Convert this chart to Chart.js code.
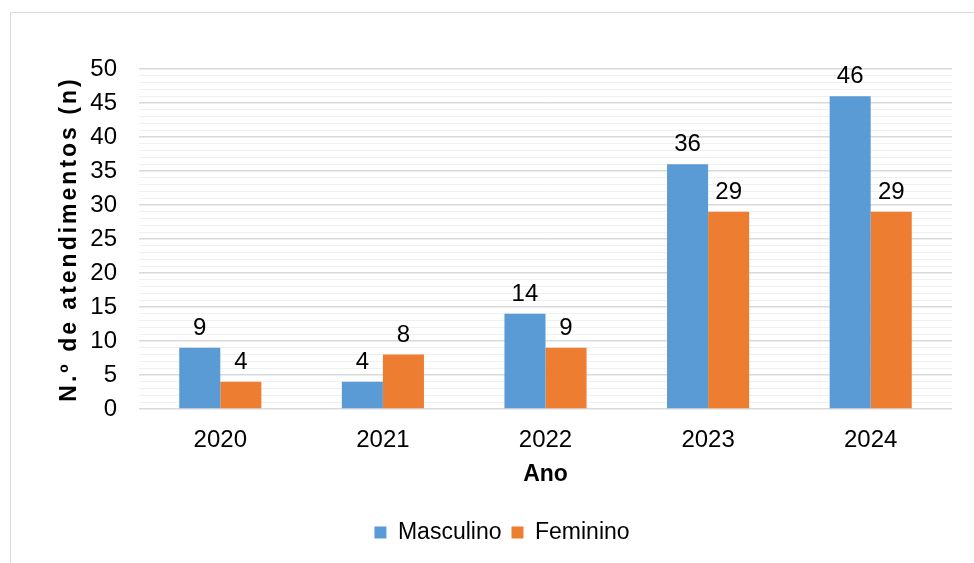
<!DOCTYPE html>
<html>
<head>
<meta charset="utf-8">
<script src="https://cdn.jsdelivr.net/npm/chart.js@4"></script>
<style>
  html, body { margin: 0; padding: 0; background: #fff; }
  body { width: 974px; height: 563px; position: relative; overflow: hidden; }
  #frame { position: absolute; left: 10px; top: 12px; width: 1000px; height: 600px; border: 1px solid #d9d9d9; }
  #wrap { position: absolute; left: 0; top: 0; width: 974px; height: 563px; }
</style>
</head>
<body>
<div id="frame"></div>
<div id="wrap"><canvas id="graficoAtendimentos" width="974" height="563"></canvas></div>
<script>
const anos = ['2020', '2021', '2022', '2023', '2024']
const masculino = [9, 4, 14, 36, 46]
const feminino = [4, 8, 9, 29, 29]
const yMax = 50
const yStep = 5
const tituloY = 'N.º de atendimentos (n)'
const fonte = '"Liberation Sans", Arial, sans-serif'

// escreve o valor em cima de cada barra
const valoresNasBarras = {
  id: 'valoresNasBarras',
  afterDatasetsDraw(chart) {
    const ctx = chart.ctx
    ctx.save()
    ctx.font = '24px ' + fonte
    ctx.fillStyle = '#000'
    ctx.textAlign = 'center'
    ctx.textBaseline = 'alphabetic'
    chart.data.datasets.forEach((dataset, i) => {
      chart.getDatasetMeta(i).data.forEach((bar, j) => {
        ctx.fillText(dataset.data[j], bar.x, bar.y - 13)
      })
    })
    ctx.restore()
  }
}

// titulo do eixo y, com espacamento entre letras
const tituloEixoY = {
  id: 'tituloEixoY',
  afterDraw(chart) {
    const ctx = chart.ctx
    const area = chart.chartArea
    ctx.save()
    ctx.translate(70, (area.top + area.bottom) / 2)
    ctx.rotate(-Math.PI / 2)
    ctx.font = 'bold 23px ' + fonte
    if ('letterSpacing' in ctx) ctx.letterSpacing = '3px'
    ctx.fillStyle = '#000'
    ctx.textAlign = 'center'
    ctx.textBaseline = 'middle'
    ctx.fillText(tituloY, 0, 0)
    ctx.restore()
  }
}

const graph = document.querySelector('#graficoAtendimentos')

new Chart(graph, {
  type: 'bar',
  data: {
    labels: anos,
    datasets: [{
      label: 'Masculino',
      data: masculino,
      backgroundColor: '#5B9BD5'
    }, {
      label: 'Feminino',
      data: feminino,
      backgroundColor: '#ED7D31'
    }]
  },
  options: {
    responsive: false,
    animation: false,
    devicePixelRatio: 1,
    layout: { padding: { top: 69, left: 52, right: 22, bottom: 9 } },
    datasets: { bar: { categoryPercentage: 0.505, barPercentage: 1.0 } },
    plugins: {
      legend: {
        position: 'bottom',
        labels: {
          boxWidth: 12, boxHeight: 12, padding: 10,
          color: '#000',
          font: { size: 23, family: fonte }
        }
      },
      tooltip: { enabled: false }
    },
    scales: {
      x: {
        grid: { display: false },
        border: { display: false },
        afterFit: (scale) => { scale.height = 102 },
        ticks: { color: '#000', padding: 9, font: { size: 24, family: fonte } },
        title: {
          display: true, text: 'Ano', color: '#000', padding: { top: 7, bottom: 23 },
          font: { size: 23, weight: 'bold', family: fonte }
        }
      },
      y: {
        min: 0, max: yMax,
        border: { display: false },
        afterFit: (scale) => { scale.width = 87 },
        grid: {
          drawTicks: false,
          color: (c) => c.tick.value % yStep === 0 ? '#d9d9d9' : '#f0f0f0',
          lineWidth: (c) => c.tick.value % yStep === 0 ? 1.5 : 1
        },
        ticks: {
          stepSize: 1, autoSkip: false, color: '#000', padding: 22,
          font: { size: 24, family: fonte },
          callback: (v) => v % yStep === 0 ? v : ''
        },
        title: { display: false }
      }
    }
  },
  plugins: [valoresNasBarras, tituloEixoY]
})
</script>
</body>
</html>
